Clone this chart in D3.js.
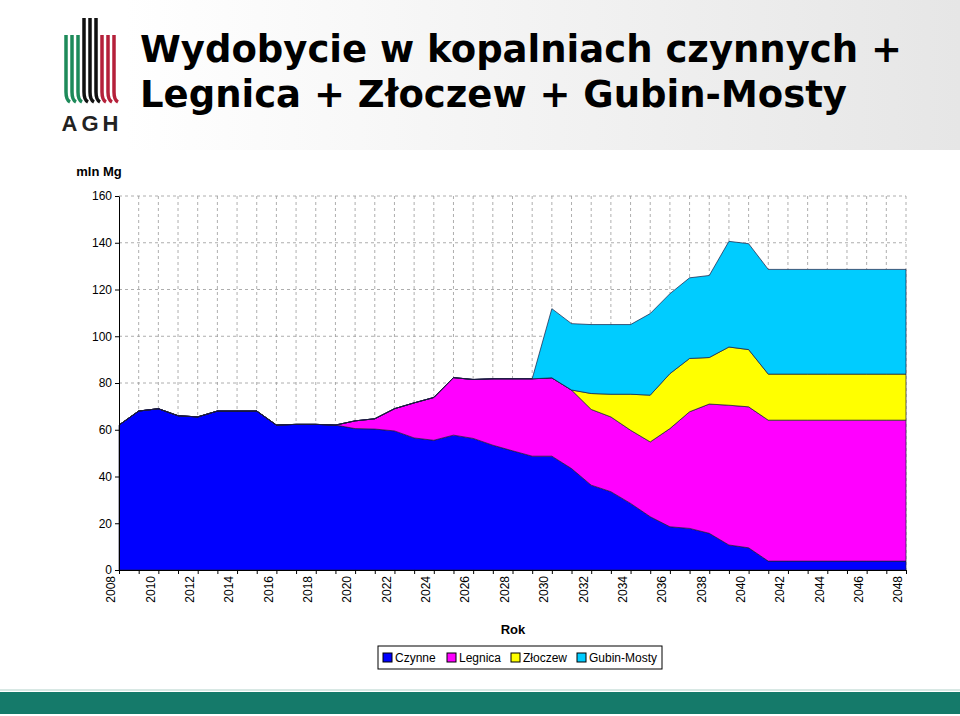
<!DOCTYPE html>
<html><head><meta charset="utf-8">
<script src="https://cdn.jsdelivr.net/npm/d3@7"></script>
<style>body{margin:0;background:#fff}svg{display:block}</style></head>
<body><svg id="c" width="960" height="716"></svg>
<script>
const years = d3.range(2008, 2049);
const seriesNames = ["Czynne","Legnica","Złoczew","Gubin-Mosty"];
const colors = ["#0000FF","#FF00FF","#FFFF00","#00CCFF"];
const czynne = [62,68,69,66,65.5,68,68,68,62,62.3,62.3,62,60.5,60.3,59.5,56.5,55.5,57.7,56.3,53.4,51,48.7,48.7,43.4,36.3,33.5,28.5,22.8,18.5,17.8,15.7,10.7,9.5,3.8,3.8,3.8,3.8,3.8,3.8,3.8,3.8];
const legnica = [0,0,0,0,0,0,0,0,0,0,0,0,3.3,4.4,9.5,15,18.3,24.6,25.2,28.4,30.8,33.1,33.5,33.6,32.4,32,31.3,32,42,49.9,55.3,59.8,60.3,60.3,60.3,60.3,60.3,60.3,60.3,60.3,60.3];
const zloczew = [0,0,0,0,0,0,0,0,0,0,0,0,0,0,0,0,0,0,0,0,0,0,0,0,6.8,9.7,15.4,20,23.5,22.8,19.9,24.9,24.5,19.7,19.7,19.7,19.7,19.7,19.7,19.7,19.7];
const gubin = [0,0,0,0,0,0,0,0,0,0,0,0,0,0,0,0,0,0,0,0,0,0,29.6,28.4,29.5,29.8,29.8,34.9,34.2,34.5,35.1,45.2,45.3,44.8,44.8,44.8,44.8,44.8,44.8,44.8,44.8];
const yTicks = [0,20,40,60,80,100,120,140,160];

const svg = d3.select("#c");
const defs = svg.append("defs");
const g1 = defs.append("linearGradient").attr("id","hg");
g1.append("stop").attr("offset","0").attr("stop-color","#ffffff");
g1.append("stop").attr("offset","1").attr("stop-color","#e6e6e6");
svg.append("rect").attr("x",125).attr("y",0).attr("width",835).attr("height",150).attr("fill","url(#hg)");

// logo
const logo = svg.append("g");
[[66,"#1e8a5a"],[72,"#1e8a5a"],[78,"#1e8a5a"],[84,"#111"],[90,"#111"],[96,"#111"],[102,"#b5203a"],[108,"#b5203a"],[114,"#b5203a"]].forEach(([x,c],i)=>{
  const top = (i>=3&&i<=5)?18:35;
  logo.append("path").attr("d",`M${x},${top} L${x},92 Q${x},100 ${x+4},102`).attr("stroke",c).attr("stroke-width",3.5).attr("fill","none");
});
logo.append("text").attr("x",92).attr("y",131).attr("text-anchor","middle").attr("font-family","Liberation Sans, Arial").attr("font-weight","bold").attr("font-size",22).attr("letter-spacing",4).attr("fill","#222").text("AGH");

svg.append("text").attr("x",140).attr("y",62).attr("font-family","DejaVu Sans, Verdana").attr("font-weight","bold").attr("font-size",37).attr("fill","#000").text("Wydobycie w kopalniach czynnych +");
svg.append("text").attr("x",140).attr("y",107).attr("font-family","DejaVu Sans, Verdana").attr("font-weight","bold").attr("font-size",37).attr("fill","#000").text("Legnica + Złoczew + Gubin-Mosty");

const L=119,R=906,T=196,B=570;
const x = d3.scaleLinear().domain([2008,2048]).range([L,R]);
const y = d3.scaleLinear().domain([0,160]).range([B,T]);

const grid = svg.append("g").attr("stroke","#999").attr("stroke-dasharray","3,3").attr("stroke-width",0.8);
yTicks.forEach(t=>{ if(t>0) grid.append("line").attr("x1",L).attr("x2",R).attr("y1",y(t)).attr("y2",y(t)); });
years.forEach(t=>{ if(t>2008) grid.append("line").attr("x1",x(t)).attr("x2",x(t)).attr("y1",T).attr("y2",B); });

const data = years.map((yr,i)=>({year:yr,"Czynne":czynne[i],"Legnica":legnica[i],"Złoczew":zloczew[i],"Gubin-Mosty":gubin[i]}));
const stacked = d3.stack().keys(seriesNames)(data);
const area = d3.area().x(d=>x(d.data.year)).y0(d=>y(d[0])).y1(d=>y(d[1]));
stacked.forEach((s,i)=>{
  svg.append("path").datum(s).attr("d",area).attr("fill",colors[i]).attr("stroke","#1a1a40").attr("stroke-width",0.7);
});

const ya = svg.append("g").attr("transform",`translate(${L},0)`).call(d3.axisLeft(y).tickValues(yTicks).tickSize(4).tickSizeOuter(0));
ya.selectAll("text").attr("font-family","Liberation Sans, Arial").attr("font-size",12).attr("fill","#000");
const xa = svg.append("g").attr("transform",`translate(0,${B})`).call(d3.axisBottom(x).tickValues(years).tickFormat(d=>d%2===0?d:"").tickSize(4).tickSizeOuter(0));
xa.selectAll("text").attr("font-family","Liberation Sans, Arial").attr("font-size",12).attr("fill","#000")
  .attr("transform","rotate(-90)").attr("text-anchor","end").attr("dx","-6").attr("dy","-0.35em").attr("y",0).attr("x",0);
svg.selectAll(".domain, .tick line").attr("stroke","#000");

svg.append("text").attr("x",513).attr("y",634).attr("text-anchor","middle").attr("font-family","Liberation Sans, Arial").attr("font-weight","bold").attr("font-size",13).text("Rok");
svg.append("text").attr("x",99).attr("y",176).attr("text-anchor","middle").attr("font-family","Liberation Sans, Arial").attr("font-weight","bold").attr("font-size",13).text("mln Mg");

const lg = svg.append("g");
lg.append("rect").attr("x",378).attr("y",646).attr("width",284).attr("height",23).attr("fill","#fff").attr("stroke","#000");
const lx=[383,447,511,577];
seriesNames.forEach((n,i)=>{
  lg.append("rect").attr("x",lx[i]).attr("y",653).attr("width",9).attr("height",9).attr("fill",colors[i]).attr("stroke","#000");
  lg.append("text").attr("x",lx[i]+12).attr("y",662).attr("font-family","Liberation Sans, Arial").attr("font-size",12).text(n);
});

svg.append("rect").attr("x",0).attr("y",692).attr("width",960).attr("height",22).attr("fill","#157a6a");
svg.append("rect").attr("x",0).attr("y",689).attr("width",960).attr("height",2).attr("fill","#d8e8e4");
</script></body></html>
